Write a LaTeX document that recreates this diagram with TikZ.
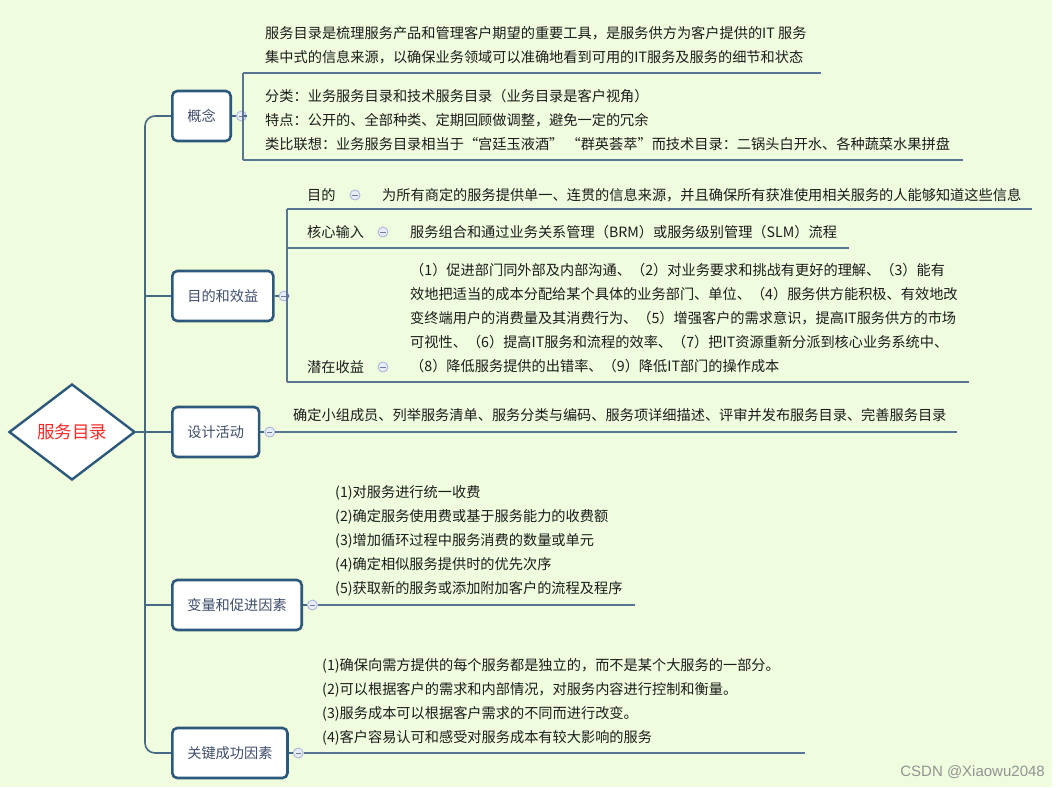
\documentclass[tikz,border=0pt]{standalone}
\usepackage{fontspec}
\setmainfont{Noto Sans CJK SC}
\newfontfamily\markfont{Liberation Sans}
\usetikzlibrary{shapes.geometric,positioning}

\definecolor{bggreen}{RGB}{239,252,221}
\definecolor{boxblue}{RGB}{44,88,124}
\definecolor{linkblue}{RGB}{70,105,135}
\definecolor{ulblue}{RGB}{88,118,148}
\definecolor{boxtext}{RGB}{62,78,108}
\definecolor{leaftext}{RGB}{28,28,28}
\definecolor{foldfill}{RGB}{232,236,250}
\definecolor{folddraw}{RGB}{165,176,220}
\definecolor{rootred}{RGB}{255,40,40}

\tikzset{
  branchbox/.style={draw=boxblue, line width=2.6pt, rounded corners=5pt, fill=white,
    text=boxtext, minimum height=50pt, inner xsep=15pt, anchor=west,
    font=\fontsize{14.2}{17}\selectfont},
  foldmark/.style={circle, draw=folddraw, fill=foldfill, line width=0.8pt,
    minimum size=10pt, inner sep=0pt,
    path picture={\draw[folddraw!70!black, line width=0.8pt]
      ([xshift=-2.6pt]path picture bounding box.center) --
      ([xshift=2.6pt]path picture bounding box.center);}},
  leaf/.style={text=leaftext, inner sep=0pt, align=left, anchor=west,
    font=\fontsize{14.2}{24}\selectfont},
  trunkline/.style={draw=linkblue, line width=1.6pt},
  uline/.style={draw=ulblue, line width=1.8pt},
  bracket/.style={draw=ulblue, line width=1.2pt},
}

\begin{document}
\begin{tikzpicture}[x=1pt, y=-1pt]
    \fill[bggreen] (0,0) rectangle (1052,787);
    \useasboundingbox (0,0) rectangle (1062,787);

    % =========================================================
    % ROOT + BRANCHES
    % =========================================================
    \node[diamond, shape aspect=1.3, draw=boxblue, line width=2.4pt, fill=white,
          minimum width=126pt, minimum height=96pt, inner sep=0pt, text=rootred,
          font=\fontsize{17.5}{20}\selectfont] (root) at (72,432) {服务目录};

    \node[branchbox] (gainian) at (171,116) {概念};
    \node[branchbox] (mudi) at (171,296) {目的和效益};
    \node[branchbox] (sheji) at (171,432) {设计活动};
    \node[branchbox, minimum width=129pt] (bianliang) at (171,605) {变量和促进因素};
    \node[branchbox] (guanjian) at (171,753) {关键成功因素};

    % Tronco
    \coordinate (trunk) at (145,432);
    \draw[trunkline, rounded corners=10pt] (gainian.west) -| (trunk) |- (guanjian.west);
    \draw[trunkline] (root.east) -- (sheji.west);
    \draw[trunkline] (mudi.west) -- (mudi.west -| trunk);
    \draw[trunkline] (bianliang.west) -- (bianliang.west -| trunk);

    % =========================================================
    % CONCETTO
    % =========================================================
    \node[foldmark, right=4pt of gainian] (gainian-f) {};
    \coordinate (gainian-j) at (243,116);
    \coordinate (gainian-a) at (243,73);
    \coordinate (gainian-b) at (243,160);
    \draw[trunkline, line width=1.2pt] (gainian) -- (gainian-f) -- (gainian-j);
    \draw[bracket] (gainian-a) -- (gainian-b);

    \node[leaf] (gainian-t1) at (265,45.5) {服务目录是梳理服务产品和管理客户期望的重要工具，是服务供方为客户提供的IT 服务\\集中式的信息来源，以确保业务领域可以准确地看到可用的IT服务及服务的细节和状态};
    \node[leaf] (gainian-t2) at (265,120.5) {分类：业务服务目录和技术服务目录（业务目录是客户视角）\\特点：公开的、全部种类、定期回顾做调整，避免一定的冗余\\类比联想：业务服务目录相当于“宫廷玉液酒” “群英荟萃”而技术目录：二锅头白开水、各种蔬菜水果拼盘};
    \draw[uline] (gainian-a) -- ([xshift=14pt]gainian-a -| gainian-t1.east);
    \draw[uline] (gainian-b) -- ([xshift=13pt]gainian-b -| gainian-t2.east);

    % =========================================================
    % SCOPO E BENEFICI
    % =========================================================
    \node[foldmark, right=4pt of mudi] (mudi-f) {};
    \coordinate (mudi-j) at (287,296);
    \coordinate (mudi-a) at (287,209);
    \coordinate (mudi-b) at (287,248);
    \coordinate (mudi-c) at (287,382);
    \draw[trunkline, line width=1.2pt] (mudi) -- (mudi-f) -- (mudi-j);
    \draw[bracket] (mudi-a) -- (mudi-c);

    % 目的
    \node[leaf] (mudi-l1) at (307,195) {目的};
    \node[foldmark] (mudi-f1) at (355,195) {};
    \node[leaf] (mudi-t1) at (382,195) {为所有商定的服务提供单一、连贯的信息来源，并且确保所有获准使用相关服务的人能够知道这些信息};
    \draw[uline] (mudi-a) -- ([xshift=11pt]mudi-a -| mudi-t1.east);

    % 核心输入
    \node[leaf] (mudi-l2) at (307,232) {核心输入};
    \node[foldmark] (mudi-f2) at (383,232) {};
    \node[leaf] (mudi-t2) at (410,232) {服务组合和通过业务关系管理（BRM）或服务级别管理（SLM）流程};
    \draw[uline] (mudi-b) -- ([xshift=12pt]mudi-b -| mudi-t2.east);

    % 潜在收益
    \node[leaf] (mudi-l3) at (307,367) {潜在收益};
    \node[foldmark] (mudi-f3) at (383,367) {};
    \node[leaf] (mudi-t3) at (410,318) {（1）促进部门同外部及内部沟通、（2）对业务要求和挑战有更好的理解、（3）能有\\效地把适当的成本分配给某个具体的业务部门、单位、（4）服务供方能积极、有效地改\\变终端用户的消费量及其消费行为、（5）增强客户的需求意识，提高IT服务供方的市场\\可视性、（6）提高IT服务和流程的效率、（7）把IT资源重新分派到核心业务系统中、\\（8）降低服务提供的出错率、（9）降低IT部门的操作成本};
    \draw[uline] (mudi-c) -- ([xshift=11pt]mudi-c -| mudi-t3.east);

    % =========================================================
    % ATTIVITA DI PROGETTO
    % =========================================================
    \node[foldmark, right=4pt of sheji] (sheji-f) {};
    \node[leaf] (sheji-t) at (293,415) {确定小组成员、列举服务清单、服务分类与编码、服务项详细描述、评审并发布服务目录、完善服务目录};
    \draw[trunkline, line width=1.2pt] (sheji) -- (sheji-f);
    \draw[uline] (sheji-f) -- ([xshift=10pt]sheji-f -| sheji-t.east);

    % =========================================================
    % VARIABILI E FATTORI
    % =========================================================
    \node[foldmark, right=4pt of bianliang] (bianliang-f) {};
    \node[leaf] (bianliang-t) at (335,541) {(1)对服务进行统一收费\\(2)确定服务使用费或基于服务能力的收费额\\(3)增加循环过程中服务消费的数量或单元\\(4)确定相似服务提供时的优先次序\\(5)获取新的服务或添加附加客户的流程及程序};
    \draw[trunkline, line width=1.2pt] (bianliang) -- (bianliang-f);
    \draw[uline] (bianliang-f) -- ([xshift=12pt]bianliang-f -| bianliang-t.east);

    % =========================================================
    % FATTORI CRITICI
    % =========================================================
    \node[foldmark, right=4pt of guanjian] (guanjian-f) {};
    \node[leaf] (guanjian-t) at (322,701.5) {(1)确保向需方提供的每个服务都是独立的，而不是某个大服务的一部分。\\(2)可以根据客户的需求和内部情况，对服务内容进行控制和衡量。\\(3)服务成本可以根据客户需求的不同而进行改变。\\(4)客户容易认可和感受对服务成本有较大影响的服务};
    \draw[trunkline, line width=1.2pt] (guanjian) -- (guanjian-f);
    \draw[uline] (guanjian-f) -- ([xshift=25pt]guanjian-f -| guanjian-t.east);

    \node[anchor=east, inner sep=0pt, text=gray!85, font=\markfont\fontsize{15}{18}\selectfont]
        (mark) at (1045,772) {CSDN @Xiaowu2048};
\end{tikzpicture}
\end{document}
